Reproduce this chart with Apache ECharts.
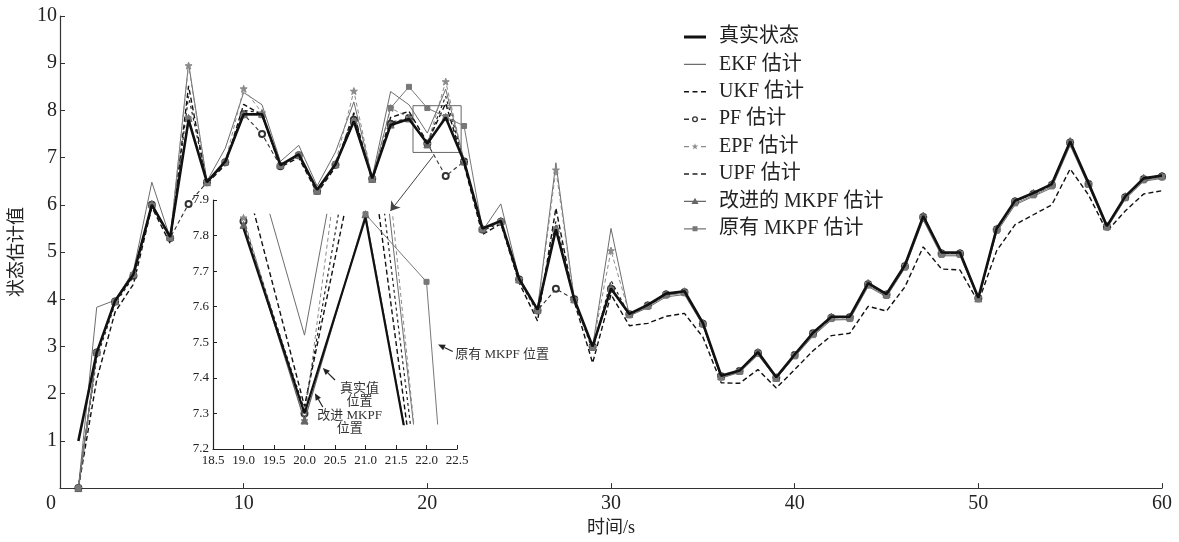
<!DOCTYPE html>
<html>
<head>
<meta charset="utf-8">
<script src="https://cdn.jsdelivr.net/npm/echarts@6/dist/echarts.min.js"></script>
<style>
  html, body { margin: 0; padding: 0; background: #fff; }
  #chart { width: 1179px; height: 542px; }
</style>
</head>
<body>
<div id="chart"></div>
<script>
// Sampling instants (s)
const timeSteps = [1, 2, 3, 4, 5, 6, 7, 8, 9, 10, 11, 12, 13, 14, 15, 16, 17, 18, 19, 20,
  21, 22, 23, 24, 25, 26, 27, 28, 29, 30, 31, 32, 33, 34, 35, 36, 37, 38, 39, 40,
  41, 42, 43, 44, 45, 46, 47, 48, 49, 50, 51, 52, 53, 54, 55, 56, 57, 58, 59, 60];

// State trajectory and the estimate of each filter
const trueState = [1.0, 2.87, 3.97, 4.53, 6.0, 5.32, 7.8, 6.48, 6.92, 7.92, 7.92, 6.84, 7.07, 6.32, 6.86, 7.77, 6.56, 7.69, 7.82, 7.3,
  7.85, 6.92, 5.5, 5.66, 4.43, 3.78, 5.48, 4.0, 3.0, 4.23, 3.69, 3.88, 4.12, 4.17, 3.5, 2.38, 2.49, 2.88, 2.35, 2.83,
  3.29, 3.63, 3.63, 4.34, 4.11, 4.72, 5.76, 4.99, 4.99, 4.03, 5.5, 6.09, 6.25, 6.44, 7.34, 6.46, 5.55, 6.18, 6.56, 6.62];
const ekfEst = [0, 3.83, 3.98, 4.6, 6.48, 5.3, 9.0, 6.5, 7.2, 8.38, 8.12, 6.92, 7.26, 6.4, 7.12, 8.18, 6.58, 8.4, 8.12, 7.52,
  8.45, 6.95, 5.45, 6.02, 4.45, 3.8, 6.89, 4.0, 3.0, 5.5, 3.65, 3.82, 4.05, 4.1, 3.45, 2.33, 2.45, 2.82, 2.32, 2.78,
  3.22, 3.56, 3.57, 4.27, 4.05, 4.66, 5.68, 4.92, 4.92, 4.0, 5.42, 6.0, 6.18, 6.36, 7.26, 6.4, 5.5, 6.12, 6.5, 6.56];
const ukfEst = [0, 2.3, 3.73, 4.32, 5.95, 5.18, 8.52, 6.45, 6.85, 8.13, 7.9, 6.8, 7.0, 6.25, 6.8, 7.95, 6.5, 7.85, 7.98, 7.32,
  8.15, 6.85, 5.37, 5.6, 4.35, 3.54, 5.93, 3.95, 2.65, 4.1, 3.44, 3.49, 3.64, 3.7, 3.2, 2.23, 2.22, 2.51, 2.12, 2.51,
  2.91, 3.23, 3.28, 3.85, 3.75, 4.26, 5.11, 4.64, 4.62, 3.94, 5.03, 5.58, 5.79, 6.0, 6.76, 6.21, 5.44, 5.87, 6.23, 6.3];
const pfEst = [0, 2.87, 3.95, 4.5, 6.0, 5.3, 6.02, 6.48, 6.9, 7.92, 7.5, 6.82, 7.05, 6.3, 6.85, 7.8, 6.55, 7.72, 7.84, 7.3,
  6.61, 6.92, 5.48, 5.64, 4.42, 3.76, 4.22, 4.0, 3.0, 4.22, 3.68, 3.87, 4.1, 4.15, 3.48, 2.37, 2.48, 2.86, 2.34, 2.82,
  3.28, 3.61, 3.62, 4.32, 4.1, 4.7, 5.74, 4.97, 4.97, 4.02, 5.48, 6.07, 6.23, 6.42, 7.32, 6.44, 5.54, 6.16, 6.54, 6.6];
const epfEst = [0, 2.87, 3.96, 4.55, 6.0, 5.3, 8.95, 6.48, 6.92, 8.46, 7.95, 6.84, 7.06, 6.3, 6.88, 8.41, 6.56, 8.05, 7.85, 7.28,
  8.61, 6.92, 5.5, 5.66, 4.43, 3.78, 6.74, 4.0, 3.0, 5.03, 3.69, 3.88, 4.12, 4.16, 3.49, 2.38, 2.49, 2.88, 2.35, 2.83,
  3.29, 3.63, 3.63, 4.34, 4.11, 4.72, 5.76, 4.99, 4.99, 4.03, 5.5, 6.09, 6.25, 6.44, 7.34, 6.46, 5.55, 6.18, 6.56, 6.62];
const upfEst = [0, 2.75, 3.9, 4.48, 5.98, 5.28, 8.3, 6.47, 6.9, 8.0, 7.95, 6.83, 7.05, 6.3, 6.85, 7.9, 6.55, 7.75, 7.83, 7.31,
  8.3, 6.9, 5.45, 5.62, 4.4, 3.72, 5.65, 3.98, 2.92, 4.4, 3.66, 3.86, 4.1, 4.15, 3.47, 2.36, 2.47, 2.86, 2.33, 2.81,
  3.27, 3.61, 3.61, 4.32, 4.09, 4.7, 5.74, 4.97, 4.97, 4.01, 5.48, 6.07, 6.23, 6.42, 7.32, 6.44, 5.53, 6.16, 6.54, 6.6];
const mkpfImproved = [0, 2.88, 3.96, 4.55, 6.02, 5.32, 7.84, 6.48, 6.92, 7.93, 7.93, 6.85, 7.06, 6.3, 6.86, 7.78, 6.55, 7.7, 7.83, 7.28,
  7.86, 6.92, 5.5, 5.66, 4.42, 3.78, 5.5, 4.0, 2.99, 4.24, 3.69, 3.88, 4.12, 4.17, 3.5, 2.37, 2.49, 2.88, 2.34, 2.83,
  3.29, 3.63, 3.63, 4.34, 4.11, 4.72, 5.77, 4.99, 4.99, 4.02, 5.5, 6.09, 6.25, 6.44, 7.35, 6.46, 5.55, 6.18, 6.57, 6.62];
const mkpfOriginal = [0, 2.87, 3.95, 4.52, 5.98, 5.3, 7.82, 6.47, 6.9, 7.9, 7.9, 6.83, 7.05, 6.3, 6.85, 7.76, 6.55, 8.05, 8.5, 8.05,
  7.86, 7.67, 5.48, 5.64, 4.41, 3.76, 5.46, 3.98, 2.98, 4.2, 3.66, 3.84, 4.08, 4.13, 3.47, 2.34, 2.46, 2.84, 2.32, 2.79,
  3.24, 3.58, 3.58, 4.29, 4.07, 4.67, 5.7, 4.94, 4.94, 4.0, 5.45, 6.03, 6.2, 6.39, 7.28, 6.42, 5.52, 6.14, 6.52, 6.58];

const seriesNames = ['真实状态', 'EKF 估计', 'UKF 估计', 'PF 估计', 'EPF 估计', 'UPF 估计', '改进的 MKPF 估计', '原有 MKPF 估计'];
const seriesValues = [trueState, ekfEst, ukfEst, pfEst, epfEst, upfEst, mkpfImproved, mkpfOriginal];

// Axis ranges: main plot and zoomed inset
const mainX = { min: 0, max: 60, step: 10 };
const mainY = { min: 0, max: 10, step: 1 };
const insetX = { min: 18.5, max: 22.5, step: 0.5 };
const insetY = { min: 7.2, max: 7.9, step: 0.1 };
// Samples shown in the inset (t = 19 … 23) and the band the inset curves are cut to
const insetFrom = 18, insetTo = 23;
const insetClip = { min: 7.27, max: 7.86 };

// Inset annotations
const insetNotes = [
  { lines: ['真实值', '位置'], text: [20.9, 7.37], tail: [20.5, 7.394], tip: [20.3, 7.428], align: 'center' },
  { lines: ['改进 MKPF', '位置'], text: [20.74, 7.293], tail: [20.3, 7.318], tip: [20.17, 7.357], align: 'center' },
  { lines: ['原有 MKPF 位置'], text: [22.47, 7.466], tail: [22.43, 7.474], tip: [22.19, 7.494], align: 'left' }
];
// Highlighted window on the main plot, and the arrow to the inset
const zoomBox = [[19.22, 8.1], [21.84, 7.11]];
const zoomArrow = [[20.33, 7.04], [17.99, 5.87]];

const FONT = '"Liberation Serif", "Noto Sans CJK SC", serif';
const STAR = 'path://M0,-10L2.4,-3.1L9.5,-3.1L3.8,1.2L5.9,8.1L0,3.8L-5.9,8.1L-3.8,1.2L-9.5,-3.1L-2.4,-3.1Z';

const styles = [
  { color: '#111', width: 2.6, type: 'solid', symbol: 'none', size: 0, z: 10 },
  { color: '#6d6d6d', width: 1, type: 'solid', symbol: 'none', size: 0, z: 3 },
  { color: '#111', width: 1.4, type: [5, 3], symbol: 'none', size: 0, z: 4 },
  { color: '#333', width: 1.1, type: [4, 3], symbol: 'emptyCircle', size: 6, z: 5 },
  { color: '#8a8a8a', width: 1, type: [4, 3], symbol: STAR, size: 7, z: 5 },
  { color: '#222', width: 1.2, type: [3, 3], symbol: 'none', size: 0, z: 4 },
  { color: '#666', width: 1.2, type: 'solid', symbol: 'triangle', size: 7, z: 6 },
  { color: '#777', width: 1, type: 'solid', symbol: 'rect', size: 5, z: 6 }
];

// Legend keys drawn in a 22 x 12 box (two invisible anchor dots fix the box)
const KEY_BOX = 'M0,0h0.01v0.01h-0.01z M21.99,11.99h0.01v0.01h-0.01z ';
const DASH3 = 'M0,5.2h5v1.6h-5z M8.5,5.2h5v1.6h-5z M17,5.2h5v1.6h-5z';
const SIDE_DASH = 'M0,5.3h5v1.4h-5z M17,5.3h5v1.4h-5z ';
const legendKeys = [
  KEY_BOX + 'M0,4.6h22v2.8h-22z',
  KEY_BOX + 'M0,5.4h22v1.1h-22z',
  KEY_BOX + DASH3,
  KEY_BOX + SIDE_DASH + 'M8,6a3,3 0 1,0 6,0a3,3 0 1,0 -6,0z M9.3,6a1.7,1.7 0 1,1 3.4,0a1.7,1.7 0 1,1 -3.4,0z',
  KEY_BOX + SIDE_DASH + 'M11,2.6L11.8,5L14.3,5L12.3,6.5L13,8.9L11,7.4L9,8.9L9.7,6.5L7.7,5L10.2,5z',
  KEY_BOX + DASH3,
  KEY_BOX + 'M0,5.4h22v1.2h-22z M11,2.4L14.6,8.6L7.4,8.6z',
  KEY_BOX + 'M0,5.4h22v1.2h-22z M8.5,3.5h5v5h-5z'
];

function pairs(vals, from, to) {
  const out = [];
  for (let i = from; i < to; i++) out.push([timeSteps[i], vals[i]]);
  return out;
}

function makeSeries(i, inset) {
  const st = styles[i];
  const vals = seriesValues[i];
  const s = {
    name: seriesNames[i],
    type: 'line',
    data: inset ? pairs(vals, insetFrom, insetTo) : pairs(vals, 0, vals.length),
    xAxisIndex: inset ? 2 : 0,
    yAxisIndex: inset ? 2 : 0,
    symbol: st.symbol,
    symbolSize: st.size,
    showSymbol: st.symbol !== 'none',
    clip: true,
    z: st.z,
    animation: false,
    lineStyle: { color: st.color, width: inset && i === 0 ? 2.2 : st.width, type: st.type },
    itemStyle: { color: st.color, borderColor: st.color, borderWidth: 1 },
    emphasis: { disabled: true }
  };
  if (i === 0 && !inset) {
    s.markArea = {
      silent: true,
      itemStyle: { color: 'rgba(0,0,0,0)', borderColor: '#666', borderWidth: 1 },
      data: [[{ coord: zoomBox[0] }, { coord: zoomBox[1] }]]
    };
    s.markLine = {
      silent: true,
      symbol: ['none', 'arrow'],
      symbolSize: 9,
      label: { show: false },
      lineStyle: { color: '#444', width: 1, type: 'solid' },
      data: [[{ coord: zoomArrow[0] }, { coord: zoomArrow[1] }]]
    };
  }
  return s;
}

const series = [];
for (let i = 0; i < seriesNames.length; i++) series.push(makeSeries(i, false));
for (let i = 0; i < seriesNames.length; i++) series.push(makeSeries(i, true));

const axisText = { color: '#222', fontFamily: FONT };
const insetGrid = { left: 213, top: 200, width: 244, height: 249 };
const insetPxPerUnit = insetGrid.height / (insetY.max - insetY.min);

const option = {
  backgroundColor: '#fff',
  animation: false,
  grid: [
    { left: 60, top: 16, right: 17, bottom: 49 },
    insetGrid,
    {
      left: insetGrid.left, width: insetGrid.width,
      top: insetGrid.top + (insetY.max - insetClip.max) * insetPxPerUnit,
      height: (insetClip.max - insetClip.min) * insetPxPerUnit
    }
  ],
  legend: {
    data: seriesNames.map((n, i) => ({
      name: n, icon: 'path://' + legendKeys[i],
      itemStyle: { color: styles[i].color, borderWidth: 0 }
    })),
    orient: 'vertical',
    left: 679,
    top: 22,
    itemWidth: 22,
    itemHeight: 12,
    itemGap: 7.4,
    selectedMode: false,
    textStyle: { fontFamily: FONT, fontSize: 20, lineHeight: 20, color: '#222', padding: [0, 0, 0, 8] }
  },
  xAxis: [
    {
      type: 'value', gridIndex: 0, min: mainX.min, max: mainX.max, interval: mainX.step,
      name: '时间/s', nameLocation: 'middle', nameGap: 29,
      nameTextStyle: { fontFamily: FONT, fontSize: 18, color: '#222' },
      axisLine: { lineStyle: { color: '#333', width: 1.2 } },
      axisTick: { inside: true, length: 5, lineStyle: { color: '#333' } },
      axisLabel: {
        ...axisText, fontSize: 20, margin: 6,
        formatter: v => (v === 0 ? '{z|0}' : String(v)),
        rich: { z: { fontFamily: FONT, fontSize: 20, color: '#222', padding: [0, 18, 0, 0] } }
      },
      splitLine: { show: false }
    },
    {
      type: 'value', gridIndex: 1, min: insetX.min, max: insetX.max, interval: insetX.step,
      axisLine: { lineStyle: { color: '#222', width: 1.2 } },
      axisTick: { inside: true, length: 4, lineStyle: { color: '#222' } },
      axisLabel: { ...axisText, fontSize: 13, margin: 5, formatter: v => v.toFixed(1) },
      splitLine: { show: false }
    },
    {
      type: 'value', gridIndex: 2, min: insetX.min, max: insetX.max, show: false
    }
  ],
  yAxis: [
    {
      type: 'value', gridIndex: 0, min: mainY.min, max: mainY.max, interval: mainY.step,
      name: '状态估计值', nameLocation: 'middle', nameGap: 24, nameRotate: 90,
      nameTextStyle: { fontFamily: FONT, fontSize: 18, color: '#222' },
      axisLine: { show: true, lineStyle: { color: '#333', width: 1.2 } },
      axisTick: { show: true, inside: true, length: 5, lineStyle: { color: '#333' } },
      axisLabel: { ...axisText, fontSize: 20, margin: 3, formatter: v => (v === 0 ? '' : String(v)) },
      splitLine: { show: false }
    },
    {
      type: 'value', gridIndex: 1, min: insetY.min, max: insetY.max, interval: insetY.step,
      axisLine: { show: true, lineStyle: { color: '#222', width: 1.2 } },
      axisTick: { show: true, inside: true, length: 4, lineStyle: { color: '#222' } },
      axisLabel: { ...axisText, fontSize: 13, margin: 4, formatter: v => v.toFixed(1) },
      splitLine: { show: false }
    },
    {
      type: 'value', gridIndex: 2, min: insetClip.min, max: insetClip.max, show: false
    }
  ],
  series: series
};

const chart = echarts.init(document.getElementById('chart'), null, { renderer: 'canvas' });
chart.setOption(option);

// Arrows and labels inside the inset, placed in inset data coordinates
function toInset(p) { return chart.convertToPixel({ xAxisIndex: 1, yAxisIndex: 1 }, p); }
function arrow(p0, p1, color) {
  const dx = p1[0] - p0[0], dy = p1[1] - p0[1];
  const L = Math.hypot(dx, dy) || 1;
  const ux = dx / L, uy = dy / L, hl = 7, hw = 3;
  const bx = p1[0] - ux * hl, by = p1[1] - uy * hl;
  return [
    { type: 'line', z: 50, shape: { x1: p0[0], y1: p0[1], x2: bx, y2: by }, style: { stroke: color, lineWidth: 1.2 } },
    { type: 'polygon', z: 50, shape: { points: [[p1[0], p1[1]], [bx - uy * hw, by + ux * hw], [bx + uy * hw, by - ux * hw]] }, style: { fill: color } }
  ];
}
const graphics = [];
insetNotes.forEach(n => {
  arrow(toInset(n.tail), toInset(n.tip), '#222').forEach(g => graphics.push(g));
  const tp = toInset(n.text);
  n.lines.forEach((line, k) => {
    graphics.push({
      type: 'text', z: 50,
      style: {
        text: line, x: tp[0], y: tp[1] + k * 13,
        font: '13px ' + FONT, fill: '#333',
        align: n.align, textAlign: n.align, verticalAlign: 'middle', textVerticalAlign: 'middle'
      }
    });
  });
});
chart.setOption({ graphic: graphics });
</script>
</body>
</html>
